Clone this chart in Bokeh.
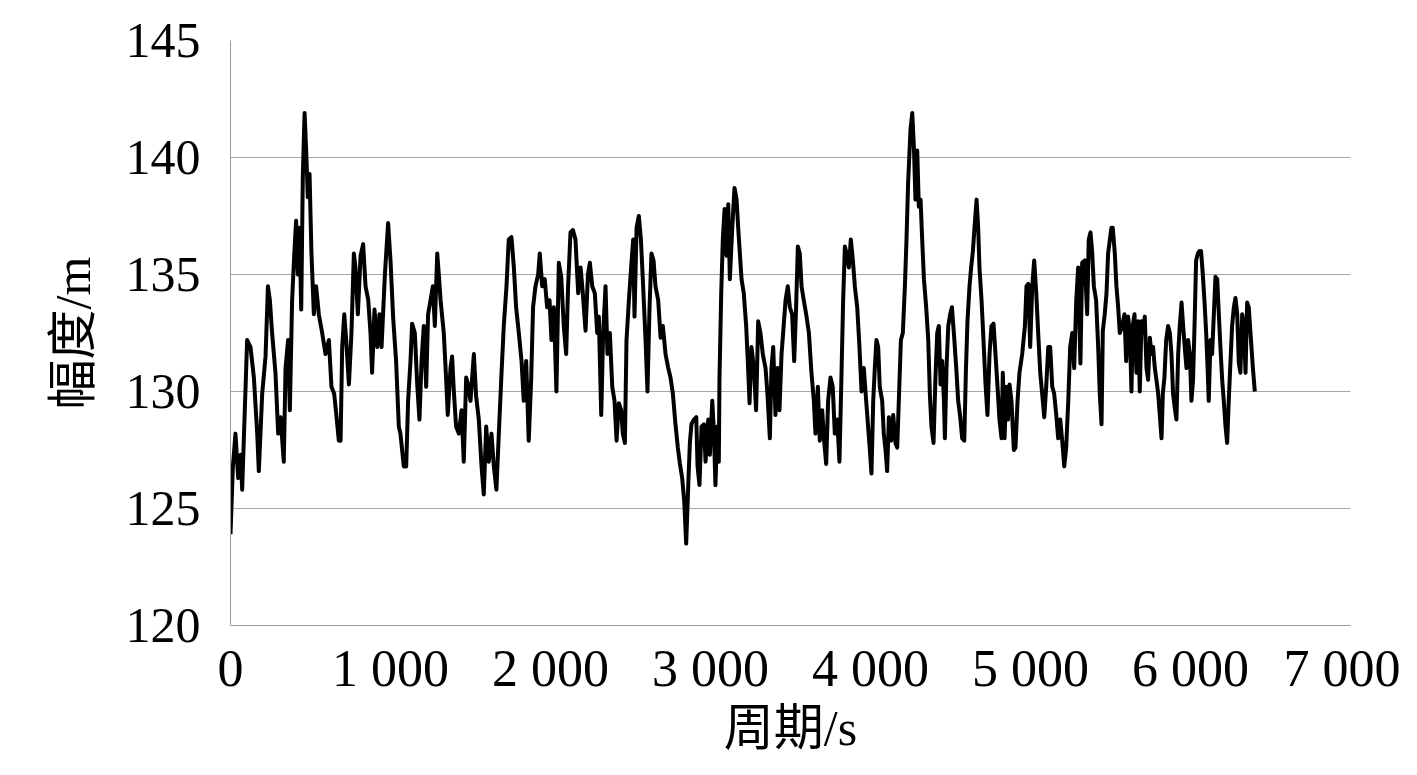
from bokeh.plotting import figure
from bokeh.models import Range1d, FixedTicker
from bokeh.embed import file_html
from bokeh.resources import INLINE

# ---- data ----
t_seg1 = [0, 15, 31, 48, 63, 73, 83, 104, 125, 146, 167, 177, 198, 219, 234, 246, 260, 281, 298, 313,
          333, 344, 360, 371, 385, 398, 410, 421, 431, 442, 452, 463, 473, 483, 494, 506, 521, 535, 552, 573,
          594, 615, 631, 648, 663, 677, 688, 698, 711, 723, 740, 756, 771, 781, 796, 813, 829, 844, 861, 875,
          885, 900, 917, 931, 944, 965, 985, 1000, 1017, 1035, 1052]
a_seg1 = [123.9, 126.8, 128.2, 126.3, 127.3, 125.8, 127.9, 132.2, 131.9, 130.6, 128.2, 126.6, 129.9, 131.5, 134.5, 133.9, 132.5, 130.8, 128.2, 128.9,
          127.0, 131.0, 132.2, 129.2, 133.9, 135.8, 137.3, 135.0, 137.0, 133.5, 139.2, 141.9, 140.3, 138.3, 139.3, 135.9, 133.3, 134.5, 133.3, 132.5,
          131.6, 132.2, 130.2, 129.9, 128.9, 127.9, 127.9, 131.9, 133.3, 132.2, 130.3, 132.5, 135.9, 135.3, 133.3, 135.8, 136.3, 134.5, 133.9, 132.5,
          130.8, 133.5, 131.9, 133.3, 131.9, 135.0, 137.2, 135.6, 133.1, 131.3, 128.5]

t_seg2 = [1062, 1083, 1098, 1110, 1125, 1135, 1152, 1167, 1181, 1194, 1208, 1223, 1235, 1250, 1265, 1277, 1292, 1302, 1313, 1333,
          1348, 1358, 1375, 1385, 1396, 1410, 1427, 1444, 1458, 1473, 1485, 1500, 1521, 1535, 1552, 1569, 1583, 1598, 1614, 1631,
          1646, 1662, 1677, 1694, 1708, 1725, 1739, 1756, 1771, 1785, 1802, 1819, 1833, 1848, 1864, 1879, 1891, 1906, 1923, 1933,
          1948, 1964, 1979, 1994, 2006, 2021, 2037, 2052, 2067, 2083, 2098, 2110]
a_seg2 = [128.2, 126.8, 126.8, 129.6, 131.3, 132.9, 132.5, 130.3, 128.8, 131.3, 132.8, 130.2, 133.3, 133.9, 134.5, 132.8, 135.9, 135.0, 133.9, 132.5,
          130.5, 129.0, 131.0, 131.5, 130.0, 128.5, 128.2, 129.2, 127.0, 130.6, 130.3, 129.6, 131.6, 129.8, 128.8, 126.8, 125.6, 128.5, 127.0, 128.2,
          126.8, 125.8, 128.2, 130.8, 132.8, 134.5, 136.5, 136.6, 135.3, 133.6, 132.5, 131.3, 129.6, 131.3, 127.9, 130.5, 133.6, 134.5, 135.0, 135.9,
          134.5, 134.8, 133.6, 133.9, 132.2, 133.6, 130.0, 135.5, 134.9, 132.8, 131.6, 134.5]

t_seg3 = [2125, 2140, 2156, 2173, 2188, 2202, 2219, 2234, 2246, 2261, 2277, 2292, 2302, 2317, 2329, 2344, 2356, 2371, 2386, 2400,
          2413, 2427, 2442, 2452, 2465, 2475, 2490, 2504, 2517, 2525, 2538, 2552, 2565, 2577, 2594, 2606, 2619, 2631, 2644, 2656,
          2673, 2688, 2702, 2719, 2736, 2750, 2765, 2781, 2796, 2809, 2823, 2836, 2848, 2861, 2871, 2881, 2896, 2911, 2919, 2931,
          2944, 2959, 2969, 2986, 2996, 3011, 3021, 3031, 3042, 3052, 3056, 3067, 3077, 3088, 3100, 3111, 3121, 3136, 3150, 3163,
          3173]
a_seg3 = [136.8, 136.9, 136.5, 134.2, 135.3, 134.2, 132.6, 135.0, 135.5, 134.5, 134.2, 132.5, 133.2, 129.0, 132.5, 134.5, 131.6, 132.5, 130.2, 129.6,
          127.9, 129.5, 129.2, 128.2, 127.8, 132.2, 133.9, 135.3, 136.5, 133.2, 137.0, 137.5, 136.5, 134.8, 132.2, 130.0, 133.6, 135.9, 135.6, 134.5,
          133.9, 132.3, 132.8, 131.6, 131.0, 130.6, 129.9, 128.6, 127.6, 126.9, 126.3, 125.3, 123.5, 126.0, 127.8, 128.6, 128.8, 128.9, 126.8, 126.0,
          128.5, 128.6, 127.0, 128.8, 127.3, 129.6, 128.3, 126.0, 128.5, 127.0, 130.5, 134.2, 136.5, 137.8, 135.8, 138.0, 134.8, 137.0, 138.7, 138.2,
          137.0]

t_seg4 = [3194, 3208, 3223, 3235, 3244, 3256, 3271, 3285, 3298, 3312, 3327, 3344, 3356, 3371, 3381, 3392, 3406, 3419, 3431, 3444,
          3454, 3469, 3483, 3496, 3510, 3523, 3535, 3546, 3558, 3569, 3583, 3598, 3615, 3631, 3646, 3656, 3671, 3683, 3698, 3710,
          3723, 3735, 3750, 3764, 3777, 3792, 3806, 3819, 3829, 3840, 3850, 3865, 3877, 3890, 3902, 3917, 3931, 3944, 3958, 3973,
          3985, 3998, 4006, 4017, 4027, 4037, 4048, 4058, 4073, 4083, 4094, 4104, 4115, 4129, 4142, 4156, 4167, 4177, 4190, 4202,
          4215, 4225, 4235]
a_seg4 = [134.8, 134.2, 132.8, 131.0, 129.5, 131.9, 131.0, 129.2, 133.0, 132.5, 131.6, 131.0, 129.9, 128.0, 131.0, 131.9, 129.0, 131.0, 129.2, 131.6,
          132.5, 133.9, 134.5, 133.6, 133.3, 131.3, 133.6, 136.2, 135.9, 134.5, 133.9, 133.3, 132.5, 130.8, 129.6, 128.2, 130.2, 127.9, 129.2, 127.9,
          126.9, 129.6, 130.6, 130.2, 128.2, 128.8, 127.0, 130.8, 133.9, 136.2, 135.9, 135.3, 136.5, 135.6, 134.5, 133.6, 131.9, 130.0, 131.0, 129.6,
          128.5, 127.3, 126.5, 129.6, 131.0, 132.2, 131.9, 130.2, 129.6, 128.2, 127.5, 126.6, 128.9, 127.9, 129.0, 127.8, 127.6, 129.6, 132.2, 132.5,
          134.5, 136.5, 138.9]

t_seg5 = [4250, 4261, 4271, 4281, 4292, 4302, 4313, 4323, 4334, 4348, 4361, 4371, 4381, 4394, 4406, 4417, 4427, 4438, 4448, 4459,
          4465, 4475, 4486, 4498, 4509, 4521, 4536, 4548, 4561, 4573, 4586, 4596, 4606, 4619, 4629, 4640, 4650, 4663, 4673, 4681,
          4694, 4704, 4719, 4731, 4744, 4756, 4769, 4781, 4794, 4806, 4819, 4827, 4838, 4848, 4859, 4869, 4881, 4896, 4906, 4919,
          4931, 4948, 4965, 4975, 4986, 4998, 5011, 5023, 5036, 5048, 5061, 5073, 5086, 5098, 5111, 5123, 5136, 5148, 5161, 5173,
          5186, 5198, 5211, 5223, 5236, 5248, 5261, 5273, 5286, 5298]
a_seg5 = [141.2, 141.9, 140.5, 138.2, 140.3, 137.9, 138.2, 136.5, 134.8, 133.6, 132.2, 129.9, 128.5, 127.8, 130.6, 132.5, 132.8, 130.3, 131.3, 129.6,
          128.0, 131.0, 132.8, 133.3, 133.6, 132.5, 131.0, 129.6, 128.9, 128.0, 127.9, 130.8, 133.0, 134.5, 135.3, 136.0, 137.0, 138.2, 137.0, 135.3,
          133.9, 132.5, 130.3, 129.0, 131.6, 132.8, 132.9, 131.6, 130.2, 128.8, 128.0, 130.8, 128.0, 130.2, 128.8, 130.3, 129.6, 127.5, 127.6, 129.6,
          130.8, 131.6, 132.8, 134.5, 134.6, 131.9, 134.5, 135.6, 134.2, 132.5, 130.8, 129.9, 128.9, 130.2, 131.9, 131.9, 130.2, 129.9, 129.0, 128.0,
          128.8, 127.9, 126.8, 127.6, 129.6, 131.9, 132.5, 131.0, 133.9, 135.3]

t_seg6 = [5312, 5323, 5339, 5354, 5364, 5375, 5385, 5396, 5410, 5423, 5433, 5444, 5452, 5464, 5475, 5485, 5496, 5506, 5514, 5527,
          5537, 5548, 5558, 5573, 5587, 5598, 5610, 5621, 5631, 5639, 5650, 5662, 5673, 5683, 5694, 5704, 5714, 5725, 5735, 5746,
          5756, 5766, 5777, 5787, 5798, 5808, 5819, 5827, 5837, 5848, 5860, 5871, 5881, 5891, 5902, 5912, 5923, 5933, 5944, 5954,
          5964, 5975, 5985, 5996, 6006, 6016, 6027, 6035, 6046, 6056, 6066, 6077, 6087, 6098, 6108, 6114, 6125, 6135, 6146, 6156,
          6167, 6177, 6187, 6198, 6208, 6219, 6229, 6239, 6250, 6260, 6271, 6281, 6292, 6302, 6312, 6323, 6333, 6344, 6354, 6364,
          6375, 6390, 6402]
a_seg6 = [131.2, 135.5, 135.6, 133.3, 136.5, 136.8, 136.0, 134.5, 133.9, 131.9, 129.9, 128.6, 132.6, 133.3, 134.2, 135.9, 136.5, 137.0, 137.0, 135.9,
          134.5, 133.6, 132.5, 132.8, 133.3, 131.3, 133.2, 132.5, 130.0, 132.8, 133.3, 130.8, 133.0, 130.0, 133.0, 132.5, 133.2, 131.0, 130.5, 132.3,
          131.6, 131.9, 131.0, 130.5, 129.9, 129.0, 128.0, 129.9, 130.6, 132.2, 132.8, 132.5, 131.6, 129.9, 129.3, 128.8, 131.6, 132.8, 133.8, 132.8,
          131.9, 131.0, 132.2, 131.6, 129.6, 130.5, 133.3, 135.6, 135.9, 136.0, 136.0, 135.0, 133.9, 132.5, 130.8, 129.6, 132.2, 131.6, 133.3, 134.9,
          134.8, 133.3, 131.9, 130.5, 129.6, 128.5, 127.8, 129.6, 131.3, 132.8, 133.6, 134.0, 133.3, 131.2, 130.8, 133.3, 132.8, 130.8, 133.8, 133.6,
          132.5, 131.0, 130.0]

x_ticks = [0, 1000, 2000, 3000, 4000, 5000, 6000, 7000]
x_tick_labels = ["0", "1 000", "2 000", "3 000", "4 000", "5 000", "6 000", "7 000"]
y_ticks = [120, 125, 130, 135, 140, 145]
x_title = "周期/s"
y_title = "幅度/m"

segs_t = [t_seg1, t_seg2, t_seg3, t_seg4, t_seg5, t_seg6]
segs_a = [a_seg1, a_seg2, a_seg3, a_seg4, a_seg5, a_seg6]
period, amplitude = [], []
for i, (ts, as_) in enumerate(zip(segs_t, segs_a)):
    if len(ts) != len(as_):
        raise ValueError(f"segment {i+1}: {len(ts)} t vs {len(as_)} a")
    period += ts
    amplitude += as_

SERIF = "Liberation Serif"
CJK = "'Liberation Serif', 'Noto Sans CJK SC'"

p = figure(
    width=1400, height=759,
    output_backend="svg", toolbar_location=None,
    x_range=Range1d(0, 7000), y_range=Range1d(120, 145),
    min_border_left=230, min_border_right=50, min_border_top=40, min_border_bottom=134,
)
p.outline_line_color = None
p.background_fill_color = "white"

p.line(period, amplitude, line_color="black", line_width=4, line_join="round")

p.xaxis.ticker = FixedTicker(ticks=x_ticks)
p.xaxis.major_label_overrides = {t: l for t, l in zip(x_ticks, x_tick_labels)}
p.yaxis.ticker = FixedTicker(ticks=y_ticks)

for ax in (p.xaxis, p.yaxis):
    ax.axis_line_color = "#9a9a9a"
    ax.axis_line_width = 1
    ax.major_tick_line_color = None
    ax.minor_tick_line_color = None
    ax.major_label_text_font = SERIF
    ax.major_label_text_color = "black"
    ax.axis_label_text_font = CJK
    ax.axis_label_text_font_style = "normal"
    ax.axis_label_text_color = "black"

p.xaxis.major_label_text_font_size = "52px"
p.yaxis.major_label_text_font_size = "50px"
p.xaxis.axis_label = x_title
p.yaxis.axis_label = y_title
p.xaxis.axis_label_text_font_size = "50px"
p.yaxis.axis_label_text_font_size = "50px"
p.xaxis.major_label_standoff = 8
p.xaxis.axis_label_standoff = 0
p.yaxis.major_label_standoff = 24
p.yaxis.axis_label_standoff = 22

p.xgrid.grid_line_color = None
p.ygrid.grid_line_color = "#a6a6a6"
p.ygrid.grid_line_width = 1

open("out.html", "w").write(file_html(p, INLINE))
